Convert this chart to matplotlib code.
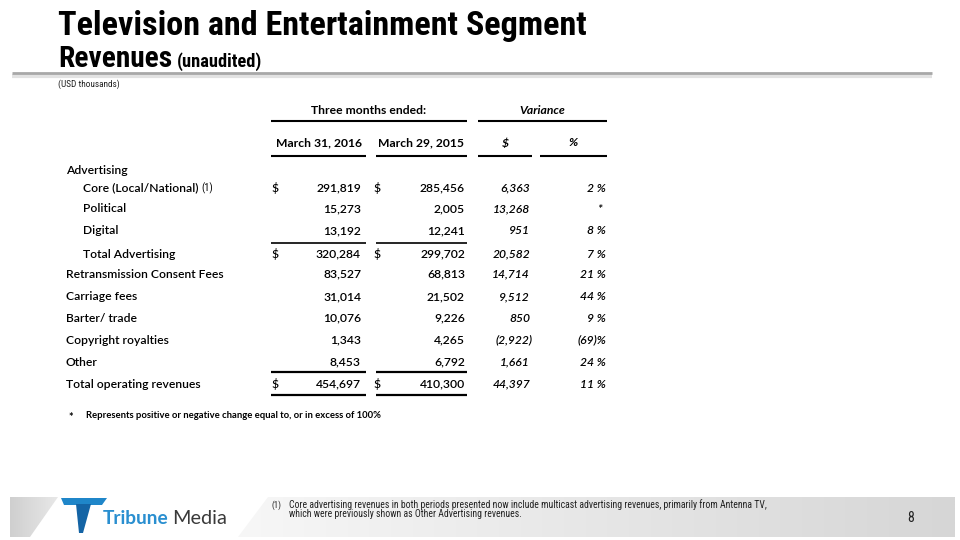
import matplotlib
matplotlib.use("Agg")
import matplotlib.pyplot as plt
from matplotlib.patches import Polygon
from matplotlib import font_manager
import numpy as np

# ---------------- data ----------------
row_labels = ["Advertising", "Core (Local/National)", "Political", "Digital",
              "Total Advertising", "Retransmission Consent Fees", "Carriage fees",
              "Barter/ trade", "Copyright royalties", "Other", "Total operating revenues"]
row_indent = [0, 1, 1, 1, 1, 0, 0, 0, 0, 0, 0]
q1_2016 = [None, 291819, 15273, 13192, 320284, 83527, 31014, 10076, 1343, 8453, 454697]
q1_2015 = [None, 285456, 2005, 12241, 299702, 68813, 21502, 9226, 4265, 6792, 410300]
var_usd = [None, 6363, 13268, 951, 20582, 14714, 9512, 850, -2922, 1661, 44397]
var_pct = [None, "2 %", "*", "8 %", "7 %", "21 %", "44 %", "9 %", "(69)%", "24 %", "11 %"]
dollar_rows = [1, 4, 10]

title = "Television and Entertainment Segment"
subtitle = "Revenues"
subtitle2 = "(unaudited)"
units = "(USD thousands)"
col_headers = ["March 31, 2016", "March 29, 2015", "$", "%"]
group_headers = ["Three months ended:", "Variance"]
star_note = "Represents positive or negative change equal to, or in excess of 100%"
foot1 = ["Core advertising revenues in both periods presented now include multicast advertising revenues, primarily from Antenna TV,",
         "which were previously shown as Other Advertising revenues."]
page = "8"

# ---------------- fonts ----------------
names = {f.name for f in font_manager.fontManager.ttflist}
NARROW_NAME = next((n for n in ["Liberation Sans Narrow", "Arial Narrow", "Roboto Condensed",
                                "Open Sans Condensed", "DejaVu Sans Condensed", "Roboto"]
                    if n in names), "DejaVu Sans")
NARROW = [NARROW_NAME, "DejaVu Sans"]
BODY = ["Lato", "DejaVu Sans"]

# ---------------- figure ----------------
fig = plt.figure(figsize=(9.6, 5.4), dpi=100)
ax = fig.add_axes([0, 0, 1, 1])
ax.set_xlim(0, 960)
ax.set_ylim(540, 0)
ax.axis("off")
renderer = fig.canvas.get_renderer()


def fit(x, y, s, width, size0, **kw):
    t = ax.text(x, y, s, fontsize=size0, **kw)
    w = t.get_window_extent(renderer).width
    if w > 0:
        t.set_fontsize(size0 * width / w)
    return t


# title block
fit(58, 35, title, 530, 24, family=NARROW, fontweight="bold", va="baseline", color="black")
fit(58, 67, subtitle, 114, 18, family=NARROW, fontweight="bold", va="baseline", color="black")
fit(177, 67, subtitle2, 85, 12, family=NARROW, fontweight="bold", va="baseline", color="black")
# separator line with shadow
ax.plot([12, 932], [75.5, 75.5], color="#e2e2e2", lw=3, solid_capstyle="butt")
ax.plot([12, 932], [73, 73], color="#a8a8a8", lw=2, solid_capstyle="butt")
fit(58, 84, units, 62, 6.5, family=NARROW, va="center", color="#222222")

# table geometry
c1 = (271, 366)
c2 = (376, 467)
c3 = (478, 532)
c4 = (540, 607)
row_y = [170, 188, 209, 231, 254, 274, 297, 318, 340, 362, 384]
FS = 8.7
W = "semibold"

# group headers
ax.text((c1[0] + c2[1]) / 2, 111, group_headers[0], family=BODY, fontsize=FS, fontweight="bold", ha="center", va="center")
ax.text((c3[0] + c4[1]) / 2, 111, group_headers[1], family=BODY, fontsize=FS, fontweight="bold", style="italic", ha="center", va="center")
ax.plot([c1[0], c2[1]], [121, 121], color="black", lw=1.5, solid_capstyle="butt")
ax.plot([c3[0], c4[1]], [121, 121], color="black", lw=1.5, solid_capstyle="butt")

for (a, b), h, it in zip([c1, c2, c3, c4], col_headers, [False, False, True, True]):
    ax.text((a + b) / 2, 143, h, family=BODY, fontsize=FS, fontweight="bold",
            style="italic" if it else "normal", ha="center", va="center")
    ax.plot([a, b], [156, 156], color="black", lw=1.5, solid_capstyle="butt")


def fmt(v):
    if v is None:
        return ""
    if v < 0:
        return "({:,})".format(-v)
    return "{:,}".format(v)


for i, lab in enumerate(row_labels):
    y = row_y[i]
    x0 = 66 + 17 * row_indent[i]
    t = ax.text(x0, y, lab, family=BODY, fontsize=FS, fontweight=W, va="center", color="black")
    if i == 1:
        x_end = t.get_window_extent(renderer).x1
        ax.text(x_end + 3, y, "(1)", family=NARROW, fontsize=7.5, va="center", color="black")
    if q1_2016[i] is None:
        continue
    if i in dollar_rows:
        ax.text(271, y, "$", family=BODY, fontsize=FS, fontweight=W, va="center")
        ax.text(373, y, "$", family=BODY, fontsize=FS, fontweight=W, va="center")
    ax.text(361, y, fmt(q1_2016[i]), family=BODY, fontsize=FS, fontweight=W, ha="right", va="center")
    ax.text(465, y, fmt(q1_2015[i]), family=BODY, fontsize=FS, fontweight=W, ha="right", va="center")
    xr = 533 if var_usd[i] < 0 else 530
    ax.text(xr, y, fmt(var_usd[i]), family=BODY, fontsize=FS, fontweight=W, style="italic", ha="right", va="center")
    xp = 602 if var_pct[i] == "*" else 606
    ax.text(xp, y, var_pct[i], family=BODY, fontsize=FS, fontweight=W, style="italic", ha="right", va="center")

# rules inside the table
for (a, b) in [c1, c2]:
    ax.plot([a, b], [243, 243], color="black", lw=1.2, solid_capstyle="butt")
    ax.plot([a, b], [372, 372], color="black", lw=1.6, solid_capstyle="butt")
    ax.plot([a, b], [395, 395], color="black", lw=1.6, solid_capstyle="butt")

# star note
ax.text(68, 417, "*", family=BODY, fontsize=8, fontweight="bold", va="center")
fit(86, 416, star_note, 299, 7, family=BODY, fontweight="bold", va="center")


# ---------------- footer band ----------------
def grad_poly(verts, c_left, c_right):
    verts = np.array(verts, dtype=float)
    xmin, xmax = verts[:, 0].min(), verts[:, 0].max()
    ymin, ymax = verts[:, 1].min(), verts[:, 1].max()
    g = np.linspace(0, 1, 256)[None, :]
    cl = np.array(matplotlib.colors.to_rgb(c_left))
    cr = np.array(matplotlib.colors.to_rgb(c_right))
    img = cl[None, None, :] * (1 - g[..., None]) + cr[None, None, :] * g[..., None]
    im = ax.imshow(img, extent=[xmin, xmax, ymax, ymin], aspect="auto", zorder=0.5,
                   interpolation="bilinear")
    p = Polygon(verts, closed=True, facecolor="none", edgecolor="none")
    ax.add_patch(p)
    im.set_clip_path(p)


grad_poly([(10, 497), (58, 497), (30, 537), (10, 537)], "#cfcfcf", "#e8e8e8")
grad_poly([(268, 497), (955, 497), (955, 537), (238, 537)], "#f7f7f7", "#d6d6d6")
ax.set_xlim(0, 960)
ax.set_ylim(540, 0)

# logo
ax.add_patch(Polygon([(61, 498), (107, 498), (102, 505), (64, 505)], closed=True,
                     facecolor="#1f86c9", edgecolor="none", zorder=2))
ax.add_patch(Polygon([(76, 504), (91, 504), (83, 533), (79, 533)], closed=True,
                     facecolor="#1464a5", edgecolor="none", zorder=2))
fit(103, 524, "Tribune", 66, 13.5, family=BODY, fontweight="bold", color="#2a8fd0", va="baseline")
fit(172, 524, "Media", 55, 13.5, family=BODY, color="#3a3a3a", va="baseline")

# footnote
fit(272, 505, "(1)", 10, 7, family=NARROW, va="center", color="#222222")
t1 = fit(289, 505, foot1[0], 473, 6.5, family=NARROW, va="center", color="#222222")
ax.text(289, 514, foot1[1], family=NARROW, fontsize=t1.get_fontsize(), va="center", color="#222222")
ax.text(907, 518, page, family=NARROW, fontsize=10, va="center", color="#222222")

fig.savefig("out.png", dpi=100)
